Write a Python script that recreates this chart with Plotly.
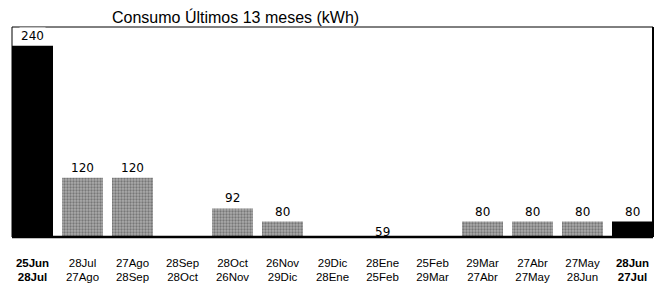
import plotly.graph_objects as go

periodo_inicio = ["25Jun", "28Jul", "27Ago", "28Sep", "28Oct", "26Nov", "29Dic",
                  "28Ene", "25Feb", "29Mar", "27Abr", "27May", "28Jun"]
periodo_fin = ["28Jul", "27Ago", "28Sep", "28Oct", "26Nov", "29Dic", "28Ene",
               "25Feb", "29Mar", "27Abr", "27May", "28Jun", "27Jul"]
consumo_kwh = [240, 120, 120, None, 92, 80, None, 59, None, 80, 80, 80, 80]
destacado = [True, False, False, False, False, False, False, False, False, False, False, False, True]

titulo = "Consumo Últimos 13 meses (kWh)"
Y_MIN, Y_MAX = 66, 257

x = list(range(len(consumo_kwh)))
ticktext = []
for a, b, d in zip(periodo_inicio, periodo_fin, destacado):
    if d:
        ticktext.append(f"<b>{a}</b><br><b>{b}</b>")
    else:
        ticktext.append(f"{a}<br>{b}")

colors = ["#000000" if d else "#ababab" for d in destacado]
pattern_shapes = ["" if d else "." for d in destacado]

fig = go.Figure()
fig.add_trace(go.Bar(
    x=x, y=consumo_kwh, width=0.82,
    marker=dict(color=colors, line=dict(width=0),
                pattern=dict(shape=pattern_shapes, fgcolor="#7a7a7a",
                             bgcolor="#cfcfcf", size=3, solidity=0.45)),
    hoverinfo="skip",
))

annotations = []
for i, v in enumerate(consumo_kwh):
    if v is None:
        continue
    below = v < Y_MIN
    annotations.append(dict(
        x=i, y=max(v, Y_MIN), xref="x", yref="y", text=str(v),
        showarrow=False, yanchor="bottom", xanchor="center",
        yshift=-4 if below else 1,
        font=dict(family="DejaVu Sans", size=12, color="#000"),
        bgcolor="rgba(0,0,0,0)" if below else "#ffffff",
    ))
annotations.append(dict(
    x=0.348, y=1.0, xref="paper", yref="paper", text=titulo,
    showarrow=False, xanchor="center", yanchor="bottom", yshift=-1,
    font=dict(family="Liberation Sans, Arial", size=16, color="#000"),
))

shapes = [
    dict(type="line", xref="paper", yref="paper", x0=0, x1=1, y0=1, y1=1,
         line=dict(color="#000", width=1), layer="above"),
    dict(type="line", xref="paper", yref="paper", x0=0, x1=0, y0=0, y1=1,
         line=dict(color="#000", width=1), layer="above"),
    dict(type="line", xref="paper", yref="paper", x0=1, x1=1, y0=0, y1=1,
         line=dict(color="#000", width=2), layer="above"),
    dict(type="line", xref="paper", yref="paper", x0=0, x1=1, y0=0, y1=0,
         line=dict(color="#000", width=2.5), layer="above"),
]

fig.update_layout(
    width=660, height=286,
    margin=dict(l=12, r=7, t=27, b=49),
    paper_bgcolor="#ffffff", plot_bgcolor="#ffffff",
    showlegend=False,
    annotations=annotations, shapes=shapes,
    xaxis=dict(range=[-0.41, len(x) - 1 + 0.41], tickmode="array",
               tickvals=x, ticktext=ticktext, showgrid=False, zeroline=False,
               showline=False, ticks="", ticklabelstandoff=17, automargin=False,
               tickfont=dict(family="Liberation Sans, Arial", size=11.5, color="#000")),
    yaxis=dict(range=[Y_MIN, Y_MAX], showgrid=False, zeroline=False, automargin=False,
               showticklabels=False, showline=False, ticks=""),
)

fig.write_html("out.html", config={"displayModeBar": False},
               post_script="document.body.style.margin='0';document.body.style.overflow='hidden';")
